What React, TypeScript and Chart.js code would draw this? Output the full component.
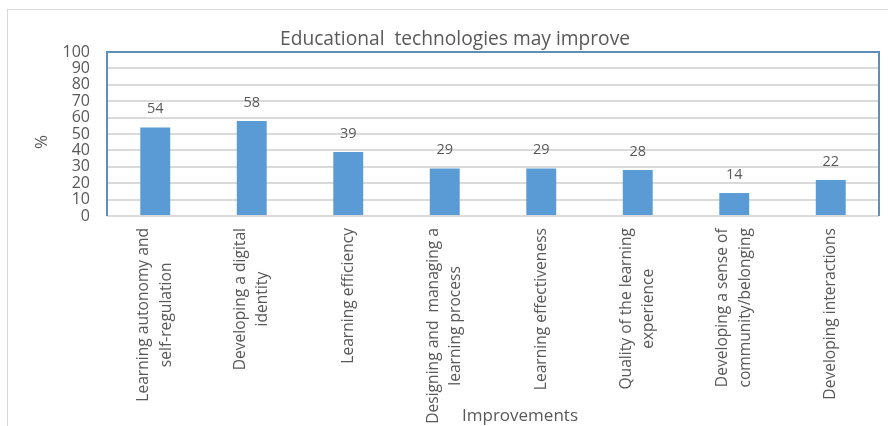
import React, { useEffect, useRef } from "react";
import { Chart, registerables } from "chart.js";

Chart.register(...registerables);

const categories: string[][] = [
  ["Learning autonomy and", "self-regulation"],
  ["Developing a digital", "identity"],
  ["Learning efficiency"],
  ["Designing and  managing a", "learning process"],
  ["Learning effectiveness"],
  ["Quality of the learning", "experience"],
  ["Developing a sense of", "community/belonging"],
  ["Developing interactions"],
];
const values: number[] = [54, 58, 39, 29, 29, 28, 14, 22];
const titleText = "Educational  technologies may improve";
const yTitle = "%";
const xTitle = "Improvements";

const FONT = "'Open Sans', sans-serif";
const TEXT = "#595959";
const BLUE_BORDER = "#5f8fb8";
const BAR = "#5b9bd5";
const GRID = "#dadada";

export default function App() {
  const ref = useRef<HTMLCanvasElement | null>(null);
  useEffect(() => {
    const canvas = ref.current;
    if (!canvas) return;
    const decor = {
      id: "decor",
      beforeDraw(chart: any) {
        const ctx = chart.ctx;
        ctx.save();
        ctx.fillStyle = "#ffffff";
        ctx.fillRect(0, 0, chart.width, chart.height);
        ctx.strokeStyle = "#d9d9d9";
        ctx.lineWidth = 1;
        ctx.strokeRect(7.5, 9.5, 1000, 1000);
        ctx.restore();
      },
      beforeDatasetsDraw(chart: any) {
        const ctx = chart.ctx;
        const a = chart.chartArea;
        ctx.save();
        ctx.strokeStyle = BLUE_BORDER;
        ctx.lineWidth = 2;
        ctx.beginPath();
        ctx.moveTo(a.left, a.bottom);
        ctx.lineTo(a.left, a.top);
        ctx.lineTo(a.right, a.top);
        ctx.lineTo(a.right, a.bottom);
        ctx.stroke();
        ctx.restore();
      },
      afterDatasetsDraw(chart: any) {
        const ctx = chart.ctx;
        const meta = chart.getDatasetMeta(0);
        const ds = chart.data.datasets[0].data as number[];
        ctx.save();
        ctx.fillStyle = TEXT;
        ctx.font = `14.5px ${FONT}`;
        ctx.textAlign = "center";
        ctx.textBaseline = "alphabetic";
        meta.data.forEach((bar: any, i: number) => {
          ctx.fillText(String(ds[i]), bar.x, bar.y - 14);
        });
        // x tick labels, rotated, lines centered on each other
        const xs = chart.scales.x;
        ctx.font = `15.6px ${FONT}`;
        const topY = 228;
        const lh = 22.5;
        categories.forEach((lines, i) => {
          const x = xs.getPixelForTick(i);
          const w = Math.max(...lines.map((l) => ctx.measureText(l).width));
          lines.forEach((line, j) => {
            const cx = x + (j - (lines.length - 1) / 2) * lh;
            ctx.save();
            ctx.translate(cx, topY + w / 2);
            ctx.rotate(-Math.PI / 2);
            ctx.textAlign = "center";
            ctx.textBaseline = "middle";
            ctx.fillText(line, 0, 0);
            ctx.restore();
          });
        });
        // title
        ctx.font = `19.2px ${FONT}`;
        ctx.textAlign = "center";
        ctx.textBaseline = "middle";
        ctx.fillText(titleText, 455, 40);
        // x title
        ctx.font = `17px ${FONT}`;
        ctx.fillText(xTitle, 520, 416);
        // y title
        ctx.save();
        ctx.translate(42, 142);
        ctx.rotate(-Math.PI / 2);
        ctx.font = `17px ${FONT}`;
        ctx.fillText(yTitle, 0, 0);
        ctx.restore();
        ctx.restore();
      },
    };
    const chart = new Chart(canvas, {
      type: "bar",
      data: {
        labels: categories,
        datasets: [
          {
            data: values,
            backgroundColor: BAR,
            barPercentage: 0.31,
            categoryPercentage: 1,
          },
        ],
      },
      options: {
        animation: false,
        responsive: false,
        devicePixelRatio: 1,
        layout: { padding: { left: 0, top: 52, right: 9, bottom: 0 } },
        plugins: {
          legend: { display: false },
          title: { display: false },
          tooltip: { enabled: false },
        },
        scales: {
          x: {
            grid: { display: false, drawTicks: false },
            border: { display: false },
            ticks: { display: false },
            afterFit(scale: any) {
              scale.height = 426 - 216;
            },
          },
          y: {
            min: 0,
            max: 100,
            ticks: {
              stepSize: 10,
              autoSkip: false,
              color: TEXT,
              font: { family: FONT, size: 16 },
              padding: 17,
            },
            grid: { color: GRID, lineWidth: 2, drawTicks: false },
            border: { display: false },
            afterFit(scale: any) {
              scale.width = 107;
            },
          },
        },
      },
      plugins: [decor],
    });
    return () => chart.destroy();
  }, []);
  return (
    <div style={{ position: "absolute", left: 0, top: 0, width: 888, height: 426 }}>
      <canvas ref={ref} width={888} height={426} style={{ width: 888, height: 426, display: "block" }} />
    </div>
  );
}
